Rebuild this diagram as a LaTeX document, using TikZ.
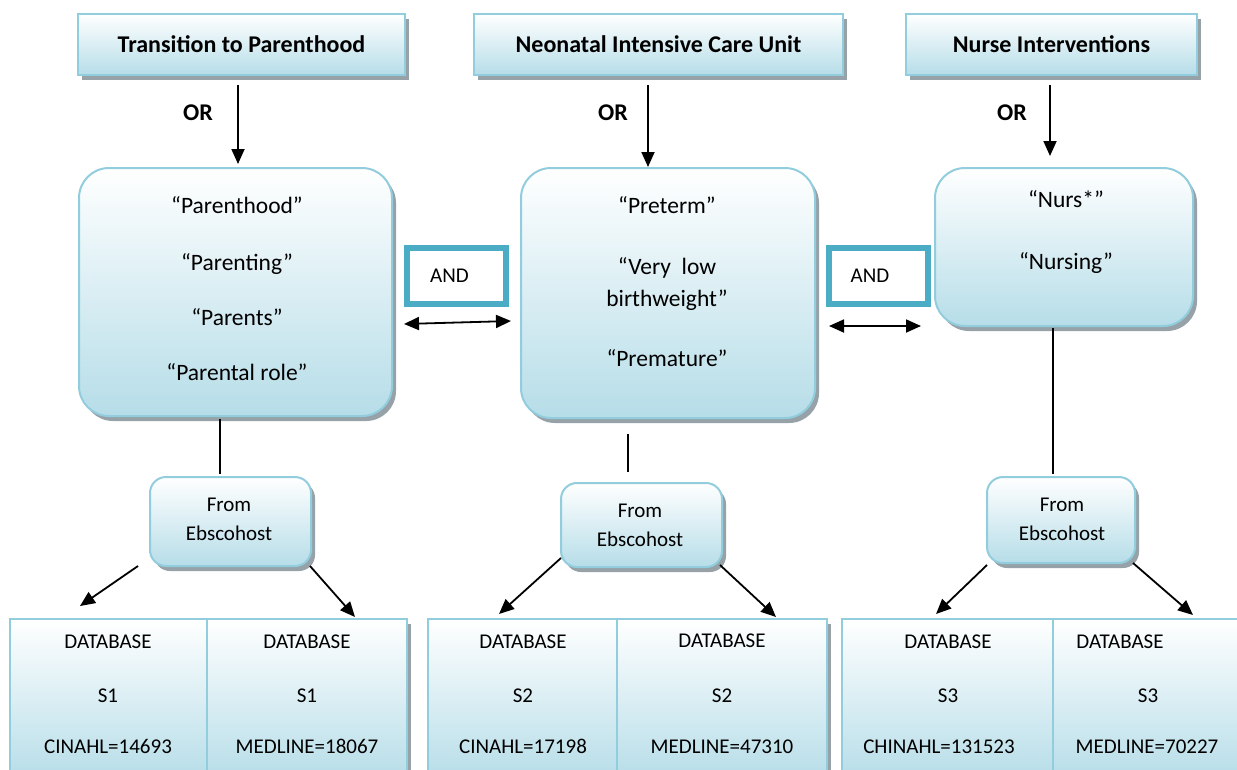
\documentclass[tikz,border=0pt]{standalone}
\usepackage{fontspec}
\setmainfont{Carlito}
\usetikzlibrary{arrows.meta,shadows}
\definecolor{bord}{RGB}{146,205,221}
\definecolor{fillb}{RGB}{182,221,232}
\definecolor{andc}{RGB}{75,172,198}
\definecolor{shad}{RGB}{150,162,168}
\begin{document}
\begin{tikzpicture}[x=1pt,y=-1pt,
  shadebox/.style={draw=bord, line width=2pt, top color=white, bottom color=fillb, inner sep=0pt},
  shd/.style={drop shadow={shadow xshift=4pt, shadow yshift=-5pt, fill=shad, opacity=1}},
  hdr/.style={shadebox, shd, minimum height=61pt, font=\fontsize{24}{28}\selectfont\bfseries},
  rbox/.style={shadebox, shd, rounded corners=30pt},
  ebox/.style={shadebox, shd, rounded corners=16pt},
  cell/.style={shadebox, minimum height=161pt},
  andbox/.style={draw=andc, line width=6pt, fill=white, inner sep=0pt, minimum width=99pt, minimum height=56pt, font=\fontsize{21}{25}\selectfont},
  big/.style={font=\fontsize{23.5}{28}\selectfont, inner sep=0pt, text height=17pt, text depth=5pt},
  small/.style={font=\fontsize{21}{25}\selectfont, inner sep=0pt, text height=15pt, text depth=4pt},
  orl/.style={font=\fontsize{24}{28}\selectfont\bfseries, inner sep=0pt},
  arr/.style={line width=1.8pt, -{Triangle[length=15pt,width=13pt]}},
  darr/.style={line width=1.8pt, {Triangle[length=15pt,width=13pt]}-{Triangle[length=15pt,width=13pt]}},
  ln/.style={line width=1.8pt}
]
\path[use as bounding box] (0,0) rectangle (1237,769);
\clip (0,0) rectangle (1237,769);

% headers
\node[hdr, minimum width=327pt] (h1) at (241.5,44.5) {Transition to Parenthood};
\node[hdr, minimum width=369pt] (h2) at (658.5,44.5) {Neonatal Intensive Care Unit};
\node[hdr, minimum width=291pt] (h3) at (1051.5,44.5) {Nurse Interventions};

\node[orl] (or1) at (198,113) {OR};
\node[orl] (or2) at (613,113) {OR};
\node[orl] (or3) at (1012,113) {OR};

% rounded boxes
\node[rbox, minimum width=313pt, minimum height=248pt] (A) at (235.5,292) {};
\node[rbox, minimum width=294pt, minimum height=250pt] (B) at (668,293) {};
\node[rbox, minimum width=258pt, minimum height=158pt] (C) at (1064,247) {};

\node[big] (a1) at (237,207) {“Parenthood”};
\node[big] (a2) at (237,264) {“Parenting”};
\node[big] (a3) at (237,319) {“Parents”};
\node[big] (a4) at (237,374) {“Parental role”};

\node[big] (b1) at (667,207) {“Preterm”};
\node[big] (b2) at (667,268) {“Very\hspace{0.45em}low};
\node[big] (b3) at (667,300) {birthweight”};
\node[big] (b4) at (667,360) {“Premature”};

\node[big] (c1) at (1066,201) {“Nurs*”};
\node[big] (c2) at (1066,263) {“Nursing”};

% AND boxes
\node[andbox] (and1) at (456.5,276) {AND\kern14pt};
\node[andbox] (and2) at (878,276) {AND\kern16pt};

% ebscohost boxes
\node[ebox, minimum width=161pt, minimum height=89pt] (E1) at (230.5,521.5) {};
\node[ebox, minimum width=161pt, minimum height=84pt] (E2) at (641.5,525) {};
\node[ebox, minimum width=148pt, minimum height=86pt] (E3) at (1061,520) {};
\node[small] (e1a) at (229,506) {From};
\node[small] (e1b) at (229,535) {Ebscohost};
\node[small] (e2a) at (640,512) {From};
\node[small] (e2b) at (640,541) {Ebscohost};
\node[small] (e3a) at (1062,506) {From};
\node[small] (e3b) at (1062,535) {Ebscohost};

% database cells
\node[cell, shd, minimum width=397pt] (g1) at (208.5,699.5) {};
\node[cell, minimum width=197pt] (g1a) at (108.5,699.5) {};
\node[cell, minimum width=200pt] (g1b) at (307,699.5) {};
\node[cell, shd, minimum width=399pt] (g2) at (627.5,699.5) {};
\node[cell, minimum width=189pt] (g2a) at (522.5,699.5) {};
\node[cell, minimum width=210pt] (g2b) at (722,699.5) {};
\node[cell, minimum width=211pt] (g3a) at (947.5,699.5) {};
\node[cell, minimum width=197pt] (g3b) at (1151.5,699.5) {};

\node[small] (t1a) at (108,643) {DATABASE};
\node[small] (t1b) at (108,697) {S1};
\node[small] (t1c) at (108,748) {CINAHL=14693};
\node[small] (t2a) at (307,643) {DATABASE};
\node[small] (t2b) at (307,697) {S1};
\node[small] (t2c) at (307,748) {MEDLINE=18067};
\node[small] (t3a) at (523,643) {DATABASE};
\node[small] (t3b) at (523,697) {S2};
\node[small] (t3c) at (523,748) {CINAHL=17198};
\node[small] (t4a) at (722,642) {DATABASE};
\node[small] (t4b) at (722,697) {S2};
\node[small] (t4c) at (722,748) {MEDLINE=47310};
\node[small] (t5a) at (948,643) {DATABASE};
\node[small] (t5b) at (948,697) {S3};
\node[small] (t5c) at (939,748) {CHINAHL=131523};
\node[small] (t6a) at (1120,643) {DATABASE};
\node[small] (t6b) at (1148,697) {S3};
\node[small] (t6c) at (1147,748) {MEDLINE=70227};

% connector end points
\coordinate (p1s) at (238,85);  \coordinate (p1e) at (238,164);
\coordinate (p2s) at (648,85);  \coordinate (p2e) at (648,167);
\coordinate (p3s) at (1050,85); \coordinate (p3e) at (1050,156);
\coordinate (d1l) at (404,324); \coordinate (d1r) at (511,321);
\coordinate (d2l) at (829,326); \coordinate (d2r) at (921,326);
\coordinate (v1s) at (220,419); \coordinate (v1e) at (220,474);
\coordinate (v2s) at (628,434); \coordinate (v2e) at (628,472);
\coordinate (v3s) at (1053,328); \coordinate (v3e) at (1053,474);
\coordinate (q1s) at (138,566); \coordinate (q1e) at (80,606);
\coordinate (q2s) at (310,566); \coordinate (q2e) at (355,617);
\coordinate (q3s) at (561,558); \coordinate (q3e) at (499,614);
\coordinate (q4s) at (720,565); \coordinate (q4e) at (776,617);
\coordinate (q5s) at (987,565); \coordinate (q5e) at (936,614);
\coordinate (q6s) at (1133,563); \coordinate (q6e) at (1193,615);

\draw[arr] (p1s) -- (p1e);
\draw[arr] (p2s) -- (p2e);
\draw[arr] (p3s) -- (p3e);
\draw[darr] (d1l) -- (d1r);
\draw[darr] (d2l) -- (d2r);
\draw[ln] (v1s) -- (v1e);
\draw[ln] (v2s) -- (v2e);
\draw[ln] (v3s) -- (v3e);
\draw[arr] (q1s) -- (q1e);
\draw[arr] (q2s) -- (q2e);
\draw[arr] (q3s) -- (q3e);
\draw[arr] (q4s) -- (q4e);
\draw[arr] (q5s) -- (q5e);
\draw[arr] (q6s) -- (q6e);
\end{tikzpicture}
\end{document}
